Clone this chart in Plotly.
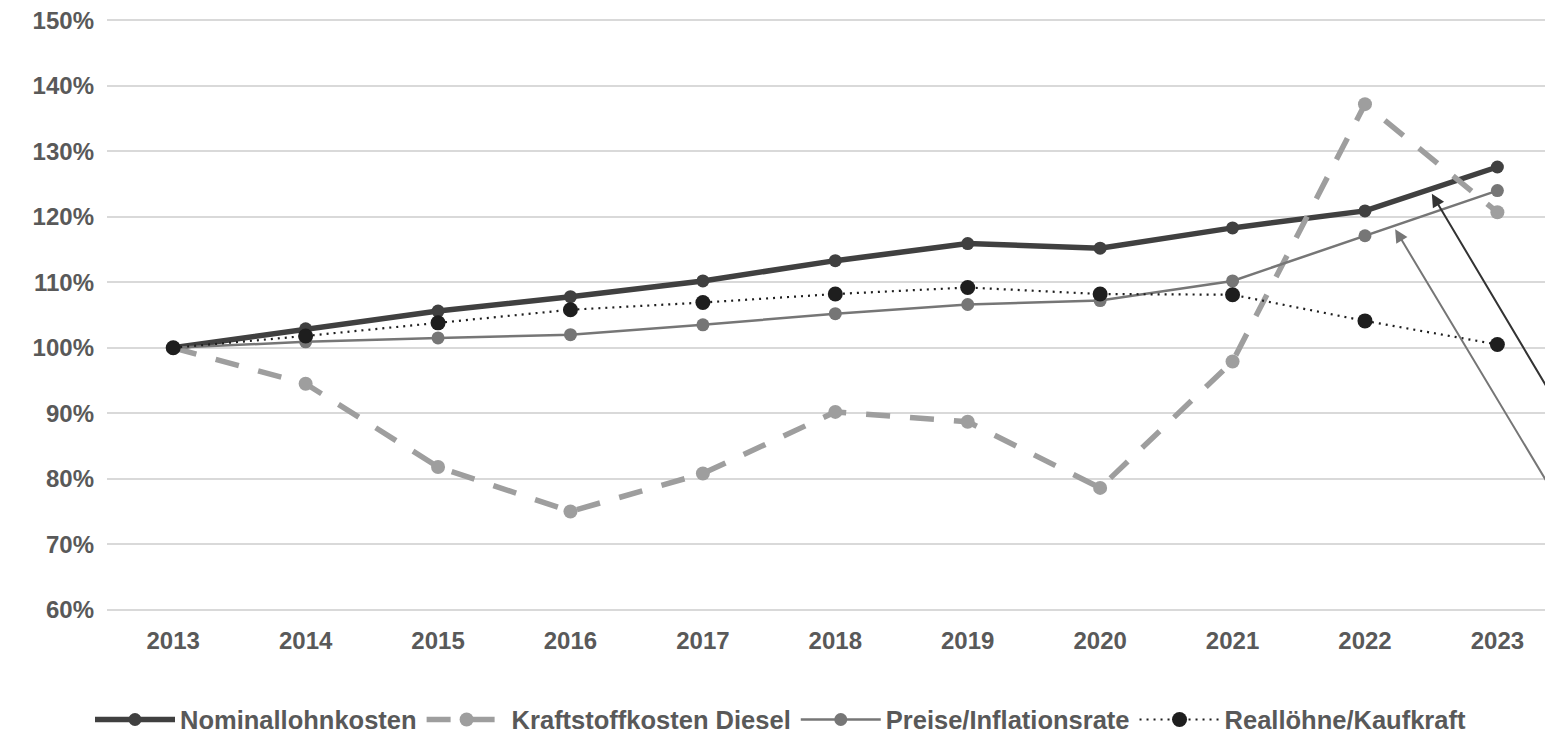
import plotly.graph_objects as go

years = [2013, 2014, 2015, 2016, 2017, 2018, 2019, 2020, 2021, 2022, 2023]
year_labels = [str(y) for y in years]

nominallohnkosten = [100.0, 102.9, 105.6, 107.8, 110.2, 113.3, 115.9, 115.2, 118.3, 120.9, 127.6]
kraftstoff_diesel = [100.0, 94.5, 81.8, 75.0, 80.8, 90.2, 88.7, 78.6, 97.9, 137.2, 120.7]
preise_inflation = [100.0, 100.9, 101.5, 102.0, 103.5, 105.2, 106.6, 107.2, 110.2, 117.1, 124.0]
realloehne_kaufkraft = [100.0, 101.8, 103.8, 105.8, 106.9, 108.2, 109.2, 108.2, 108.1, 104.1, 100.5]

y_ticks = [60, 70, 80, 90, 100, 110, 120, 130, 140, 150]
y_tick_labels = [f"{v}%" for v in y_ticks]

# arrow annotations (head and tail in data units)
arrow_dark_head = (2022.505, 123.5)
arrow_dark_tail = (2023.6, 86.3)
arrow_gray_head = (2022.228, 118.1)
arrow_gray_tail = (2023.6, 71.9)

FONT = "Liberation Sans, Arial, sans-serif"
TXT = "#595959"

fig = go.Figure()
fig.add_trace(go.Scatter(
    x=years, y=nominallohnkosten, name="Nominallohnkosten", mode="lines+markers",
    line=dict(color="#404040", width=5.5), marker=dict(color="#404040", size=13)))
fig.add_trace(go.Scatter(
    x=years, y=kraftstoff_diesel, name="Kraftstoffkosten Diesel", mode="lines+markers",
    line=dict(color="#9E9E9E", width=5.5, dash="24px,20px"), marker=dict(color="#9E9E9E", size=14)))
fig.add_trace(go.Scatter(
    x=years, y=preise_inflation, name="Preise/Inflationsrate", mode="lines+markers",
    line=dict(color="#767676", width=2.5), marker=dict(color="#767676", size=13)))
fig.add_trace(go.Scatter(
    x=years, y=realloehne_kaufkraft, name="Reallöhne/Kaufkraft", mode="lines+markers",
    line=dict(color="#1E1E1E", width=2.2, dash="2px,5px"), marker=dict(color="#1E1E1E", size=15)))

fig.add_annotation(x=arrow_dark_head[0], y=arrow_dark_head[1], xref="x", yref="y",
                   text="", showarrow=True, axref="x", ayref="y",
                   ax=arrow_dark_tail[0], ay=arrow_dark_tail[1],
                   arrowhead=2, arrowsize=1.3, arrowwidth=2, arrowcolor="#333333")
fig.add_annotation(x=arrow_gray_head[0], y=arrow_gray_head[1], xref="x", yref="y",
                   text="", showarrow=True, axref="x", ayref="y",
                   ax=arrow_gray_tail[0], ay=arrow_gray_tail[1],
                   arrowhead=2, arrowsize=1.3, arrowwidth=2, arrowcolor="#767676")

fig.update_layout(
    width=1553, height=734,
    margin=dict(l=99, r=8, t=10.7, b=130.7, autoexpand=False),
    paper_bgcolor="white", plot_bgcolor="white",
    font=dict(family=FONT, color=TXT, size=24),
    showlegend=True,
    legend=dict(orientation="h", x=(90 - 107) / 1446, xanchor="left",
                y=-0.184, yanchor="middle", font=dict(size=25.5, color=TXT, family=FONT, weight="bold"),
                itemwidth=80, traceorder="normal"),
    xaxis=dict(range=[2012.5, 2023.42], tickvals=years, ticktext=year_labels,
               showgrid=False, zeroline=False, showline=False, ticks="", automargin=False,
               tickfont=dict(size=24, color=TXT, family=FONT, weight="bold"),
               ticklabelstandoff=13, ticklabeloverflow="allow"),
    yaxis=dict(range=[59.8, 150.2], tickvals=y_ticks, ticktext=y_tick_labels,
               showgrid=True, gridcolor="#D9D9D9", gridwidth=1.5, zeroline=False,
               showline=False, ticks="", automargin=False,
               tickfont=dict(size=24, color=TXT, family=FONT, weight="bold"),
               ticklabelstandoff=12, ticklabeloverflow="allow"),
)

fig.write_html("out.html")
